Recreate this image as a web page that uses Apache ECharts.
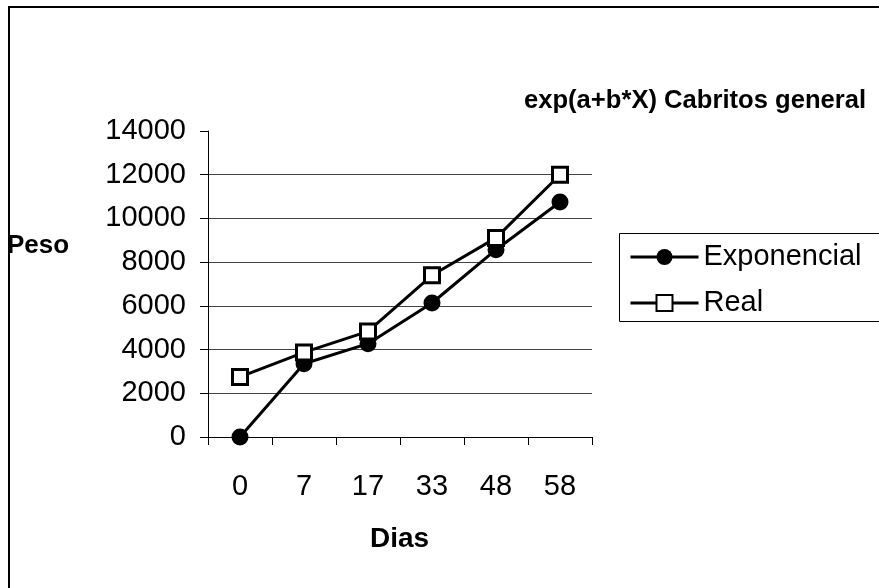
<!DOCTYPE html>
<html>
<head>
<meta charset="utf-8">
<script src="https://cdn.jsdelivr.net/npm/echarts@6/dist/echarts.min.js"></script>
<style>
  html, body { margin: 0; padding: 0; background: #fff; }
  #chart { width: 879px; height: 588px; }
</style>
</head>
<body>
<div id="chart"></div>
<script>
// Dias de medición
const dias = ['0', '7', '17', '33', '48', '58'];
// Peso ajustado por el modelo exp(a+b*X)
const exponencial = [0, 3350, 4270, 6130, 8570, 10750];
// Peso observado
const real = [2750, 3870, 4830, 7400, 9110, 12000];
// Marcas del eje de peso
const pesoMin = 0, pesoMax = 14000, pesoPaso = 2000;

const chart = echarts.init(document.getElementById('chart'), null, { renderer: 'canvas' });
const font = 'Liberation Sans, Arial, sans-serif';

chart.setOption({
  animation: false,
  backgroundColor: '#fff',
  title: [
    { text: 'exp(a+b*X) Cabritos general', left: 524, top: 88, padding: 0,
      textStyle: { fontFamily: font, fontSize: 25.6, fontWeight: 'bold', color: '#000' } },
    { text: 'Peso', left: 7, top: 233, padding: 0,
      textStyle: { fontFamily: font, fontSize: 26, fontWeight: 'bold', color: '#000' } },
    { text: 'Dias', left: 370, top: 525, padding: 0,
      textStyle: { fontFamily: font, fontSize: 28, fontWeight: 'bold', color: '#000' } }
  ],
  graphic: [
    // marco exterior del gráfico
    { type: 'rect', shape: { x: 9, y: 7, width: 900, height: 600 },
      style: { fill: null, stroke: '#000', lineWidth: 2 }, z: 0 },
    // caja de la leyenda
    { type: 'rect', shape: { x: 619.5, y: 233.5, width: 300, height: 88 },
      style: { fill: '#fff', stroke: '#000', lineWidth: 1 }, z: 1 }
  ],
  legend: {
    left: 629, top: 239, orient: 'vertical', padding: 0,
    itemWidth: 68, itemHeight: 20, itemGap: 10,
    lineStyle: { width: 3 },
    textStyle: { fontFamily: font, fontSize: 29, color: '#000', lineHeight: 36 },
    z: 5,
    data: ['Exponencial', 'Real']
  },
  grid: { left: 208, right: 287, top: 131, bottom: 151, containLabel: false },
  xAxis: {
    type: 'category', data: dias, boundaryGap: true,
    axisLine: { lineStyle: { color: '#000', width: 1 } },
    axisTick: { show: true, length: 8, alignWithLabel: false, lineStyle: { color: '#000' } },
    axisLabel: { margin: 35, fontFamily: font, fontSize: 29, color: '#000' },
    splitLine: { show: false }
  },
  yAxis: {
    type: 'value', min: pesoMin, max: pesoMax, interval: pesoPaso,
    axisLine: { show: true, lineStyle: { color: '#000', width: 1 } },
    axisTick: { show: true, length: 8, lineStyle: { color: '#000' } },
    axisLabel: { margin: 22, fontFamily: font, fontSize: 29, color: '#000',
                 formatter: v => String(v) },
    splitLine: { show: true, showMaxLine: false, lineStyle: { color: '#444', width: 1 } }
  },
  series: [
    {
      name: 'Exponencial', type: 'line', data: exponencial,
      symbol: 'circle', symbolSize: 17,
      lineStyle: { color: '#000', width: 3 },
      itemStyle: { color: '#000', borderColor: '#000', borderWidth: 0 },
      z: 3
    },
    {
      name: 'Real', type: 'line', data: real,
      symbol: 'rect', symbolSize: 15,
      lineStyle: { color: '#000', width: 3 },
      itemStyle: { color: '#fff', borderColor: '#000', borderWidth: 3 },
      z: 4
    }
  ]
});
</script>
</body>
</html>
